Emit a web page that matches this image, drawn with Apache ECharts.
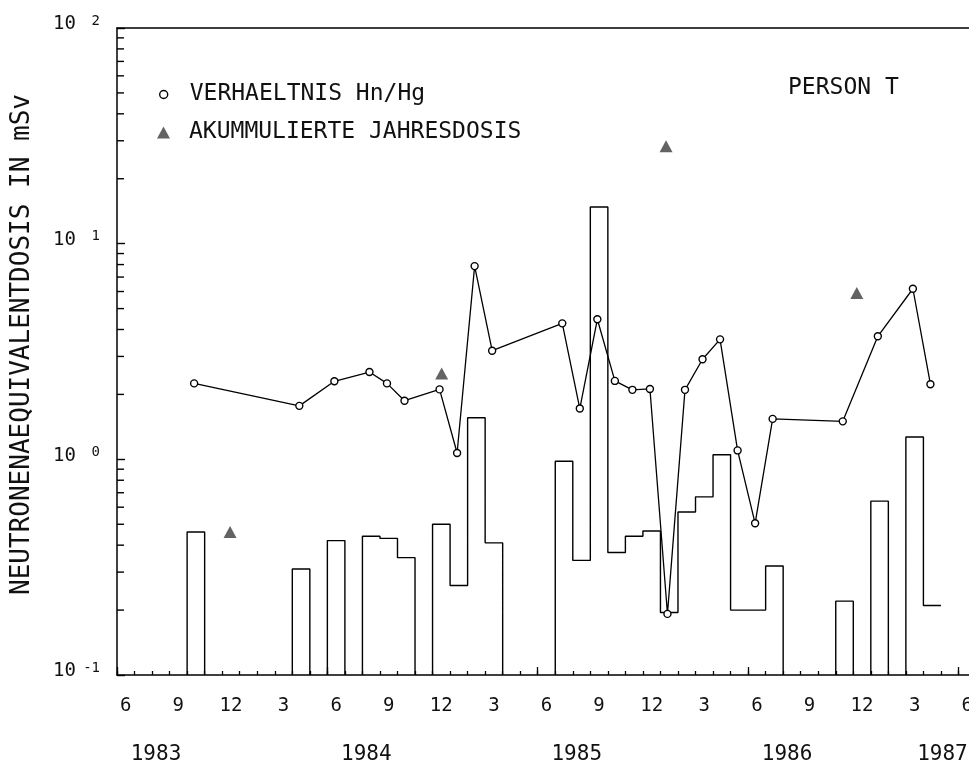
<!DOCTYPE html>
<html>
<head>
<meta charset="utf-8">
<script src="https://cdn.jsdelivr.net/npm/echarts@6/dist/echarts.min.js"></script>
<style>
  html, body { margin: 0; padding: 0; background: #fff; }
  #chart { width: 969px; height: 767px; }
</style>
</head>
<body>
<div id="chart"></div>
<script>
// Month index counted from June 1983 (0 = Jun 1983, 12 = Jun 1984, ...).
const binMonths = [4, 10, 12, 14, 15, 16, 18, 19, 20, 21,
                   25, 26, 27, 28, 29, 30, 31, 32, 33, 34, 35, 36, 37,
                   41, 43, 45, 46];
// Monthly neutron equivalent dose, mSv.
const monthlyDose = [0.46, 0.31, 0.42, 0.44, 0.43, 0.35, 0.50, 0.26, 1.56, 0.41,
                     0.98, 0.34, 14.8, 0.37, 0.44, 0.465, 0.195, 0.57, 0.67, 1.05, 0.20, 0.20, 0.32,
                     0.22, 0.64, 1.27, 0.21];
// Ratio Hn/Hg for the same months.
const ratioHnHg = [2.25, 1.77, 2.30, 2.54, 2.25, 1.87, 2.11, 1.07, 7.87, 3.19,
                   4.27, 1.72, 4.46, 2.31, 2.10, 2.12, 0.192, 2.10, 2.91, 3.60, 1.10, 0.505, 1.54,
                   1.50, 3.72, 6.18, 2.23];
// Accumulated annual dose, mSv.
const annualMonths = [6.45, 18.52, 31.32, 42.2];
const annualDose = [0.46, 2.5, 28.3, 5.9];

const monthLabels = ['6', '9', '12', '3', '6', '9', '12', '3', '6', '9', '12', '3', '6', '9', '12', '3', '6'];
const yearLabels = ['1983', '1984', '1985', '1986', '1987'];
const logMinorTicks = [0.2, 0.3, 0.4, 0.5, 0.6, 0.7, 0.8, 0.9,
                       2, 3, 4, 5, 6, 7, 8, 9,
                       20, 30, 40, 50, 60, 70, 80, 90];

const Y_MIN = 0.1, Y_MAX = 100;
const X_MIN = 0, X_MAX = 49;
const SAMPLE_POS = 0.4;   // where in its month a ratio sample sits
const FONT = '"DejaVu Sans Mono", monospace';
const INK = '#111';

// Stepped outline of the monthly histogram; runs of neighbouring months share edges.
const outline = [];
for (let i = 0; i < binMonths.length; i++) {
  const m = binMonths[i], v = monthlyDose[i];
  const joinsPrev = i > 0 && binMonths[i - 1] === m - 1;
  const joinsNext = i < binMonths.length - 1 && binMonths[i + 1] === m + 1;
  if (!joinsPrev) {
    if (i > 0) outline.push([m, '-']);
    outline.push([m, Y_MIN]);
  }
  outline.push([m, v], [m + 1, v]);
  if (!joinsNext && i < binMonths.length - 1) outline.push([m + 1, Y_MIN]);
}

const ratioPoints = binMonths.map((m, i) => [m + SAMPLE_POS, ratioHnHg[i]]);
const annualPoints = annualMonths.map((m, i) => [m, annualDose[i]]);

const chart = echarts.init(document.getElementById('chart'), null, { renderer: 'canvas' });

chart.setOption({
  animation: false,
  backgroundColor: '#fff',
  title: {
    text: 'PERSON T',
    left: 783, top: 72,
    textStyle: { fontFamily: FONT, fontSize: 23, fontWeight: 'normal', color: INK }
  },
  legend: [
    {
      data: [{ name: 'VERHAELTNIS Hn/Hg', icon: 'circle',
               itemStyle: { color: '#fff', borderColor: '#000', borderWidth: 1.4 } }],
      left: 154, top: 78, itemWidth: 8, itemHeight: 8, selectedMode: false,
      textStyle: { fontFamily: FONT, fontSize: 23, color: INK, padding: [0, 0, 0, 17] }
    },
    {
      data: [{ name: 'AKUMMULIERTE JAHRESDOSIS', icon: 'triangle',
               itemStyle: { color: '#3c3c3c', borderWidth: 0 } }],
      left: 152, top: 116, itemWidth: 13, itemHeight: 12, selectedMode: false,
      textStyle: { fontFamily: FONT, fontSize: 23, color: INK, padding: [0, 0, 0, 14] }
    }
  ],
  grid: { left: 117, right: -7, top: 28, bottom: 92, outerBoundsMode: 'none', containLabel: false },
  xAxis: [
    {
      // month ticks and month labels
      type: 'value', position: 'bottom', min: X_MIN, max: X_MAX, interval: 1,
      axisLine: { show: true, lineStyle: { color: '#000', width: 1.5 } },
      axisTick: { show: true, inside: true, length: 4, lineStyle: { color: '#000', width: 1.3 } },
      splitLine: { show: false },
      axisLabel: {
        interval: 0, margin: 22, hideOverlap: false, showMaxLabel: false,
        formatter: v => (v % 3 === 0 && v / 3 < monthLabels.length) ? '{m|' + monthLabels[v / 3] + '}' : '',
        rich: { m: { fontFamily: FONT, fontSize: 19, color: INK, padding: [0, 0, 0, 17.5] } }
      }
    },
    {
      // year ticks and year labels
      type: 'value', position: 'bottom', min: X_MIN, max: X_MAX, interval: 12,
      axisLine: { show: false },
      axisTick: { show: true, inside: true, length: 8, lineStyle: { color: '#000', width: 1.3 } },
      splitLine: { show: false },
      axisLabel: {
        interval: 0, margin: 69, hideOverlap: false, showMaxLabel: false,
        formatter: v => {
          if (v % 12 !== 0) return '';
          const k = v / 12;
          if (k >= yearLabels.length) return '';
          return (k === yearLabels.length - 1 ? '{e|' : '{y|') + yearLabels[k] + '}';
        },
        rich: {
          y: { fontFamily: FONT, fontSize: 21, color: INK, padding: [0, 0, 0, 78] },
          e: { fontFamily: FONT, fontSize: 21, color: INK, padding: [0, 32, 0, 0] }
        }
      }
    },
    {
      // frame line along the top
      type: 'value', position: 'top', min: X_MIN, max: X_MAX,
      axisLine: { show: true, lineStyle: { color: '#000', width: 1.5 } },
      axisTick: { show: false }, axisLabel: { show: false }, splitLine: { show: false }
    }
  ],
  yAxis: {
    type: 'log', logBase: 10, min: Y_MIN, max: Y_MAX,
    name: 'NEUTRONENAEQUIVALENTDOSIS IN mSv',
    nameLocation: 'middle', nameRotate: 90, nameGap: 82,
    nameTextStyle: { fontFamily: FONT, fontSize: 26, color: INK, padding: [0, 0, 0, 14] },
    axisLine: { show: true, lineStyle: { color: '#000', width: 1.5 } },
    axisTick: { show: true, inside: true, length: 8, lineStyle: { color: '#000', width: 1.4 } },
    splitLine: { show: false },
    axisLabel: {
      margin: 17,
      padding: [0, 0, 8, 0],
      formatter: v => {
        const e = Math.round(Math.log10(v));
        return '{b|10}{s|' + e + '}';
      },
      rich: {
        b: { fontFamily: FONT, fontSize: 19, color: INK, lineHeight: 20, verticalAlign: 'bottom', padding: [8, 0, 0, 0] },
        s: { fontFamily: FONT, fontSize: 14, color: INK, lineHeight: 14, verticalAlign: 'top', width: 24, align: 'right' }
      }
    }
  },
  series: [
    {
      type: 'line', xAxisIndex: 0, yAxisIndex: 0,
      data: outline, symbol: 'none', connectNulls: false, clip: false,
      lineStyle: { color: '#000', width: 1.4 }, silent: true, z: 2
    },
    {
      name: 'VERHAELTNIS Hn/Hg', type: 'line', xAxisIndex: 0, yAxisIndex: 0,
      data: ratioPoints, symbol: 'circle', symbolSize: 7, showAllSymbol: true,
      lineStyle: { color: '#000', width: 1.3 },
      itemStyle: { color: '#fff', borderColor: '#000', borderWidth: 1.4 }, z: 3
    },
    {
      name: 'AKUMMULIERTE JAHRESDOSIS', type: 'scatter', xAxisIndex: 0, yAxisIndex: 0,
      data: annualPoints, symbol: 'triangle', symbolSize: [13, 12],
      itemStyle: { color: '#3c3c3c' }, z: 4
    },
    {
      // minor ticks of the log axis at 2..9 of each decade
      type: 'custom', xAxisIndex: 0, yAxisIndex: 0, silent: true, clip: false,
      data: logMinorTicks.map(v => [X_MIN, v]),
      renderItem: (params, api) => {
        const p = api.coord([api.value(0), api.value(1)]);
        return {
          type: 'line',
          shape: { x1: p[0], y1: p[1], x2: p[0] + 7, y2: p[1] },
          style: { stroke: '#000', lineWidth: 1.4 }
        };
      }
    }
  ]
});
</script>
</body>
</html>
